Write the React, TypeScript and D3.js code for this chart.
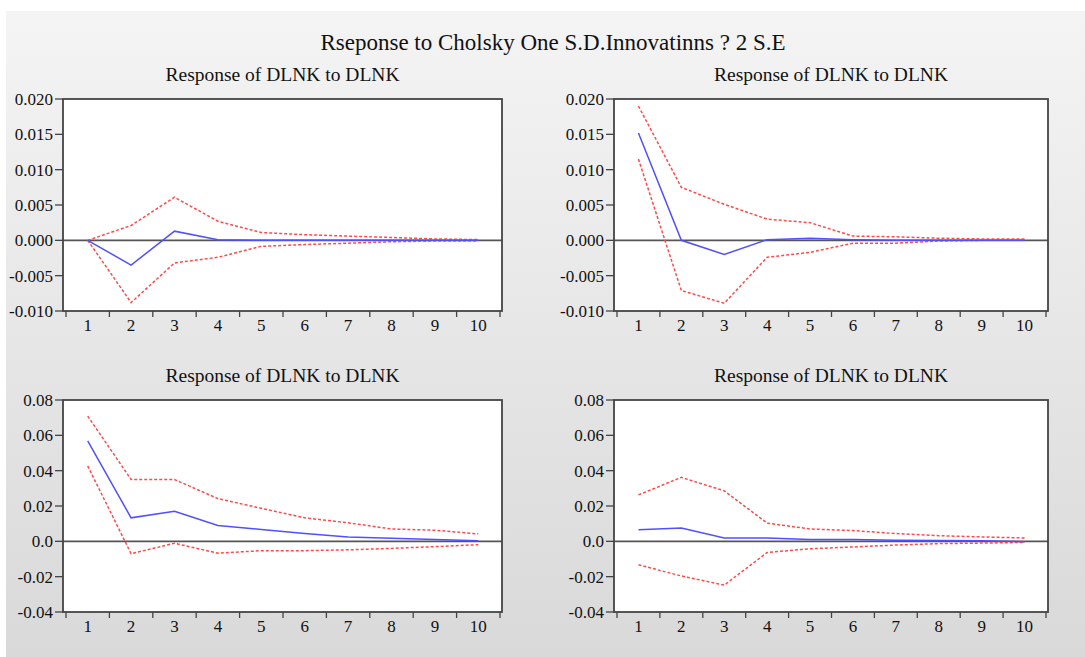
import React from 'react';
import * as d3 from 'd3';

const periods = [1, 2, 3, 4, 5, 6, 7, 8, 9, 10];

const mainTitle = 'Rseponse to Cholsky One S.D.Innovatinns ? 2 S.E';
const panelTitle = 'Response of DLNK to DLNK';

const topTicks = [-0.01, -0.005, 0, 0.005, 0.01, 0.015, 0.02];
const bottomTicks = [-0.04, -0.02, 0, 0.02, 0.04, 0.06, 0.08];

// panel 1 (top left)
const p1Resp = [0.0, -0.0035, 0.0013, 0.0001, 0.0, 0.0, 0.0, 0.0, 0.0, 0.0];
const p1Upper = [0.0, 0.0021, 0.0061, 0.0027, 0.0011, 0.0008, 0.0006, 0.0004, 0.0002, 0.0001];
const p1Lower = [0.0, -0.0088, -0.0032, -0.0024, -0.00085, -0.0006, -0.0004, -0.0002, -0.0001, -0.0001];

// panel 2 (top right)
const p2Resp = [0.0152, 0.0, -0.002, 0.0001, 0.0003, 0.0001, 0.0, 0.0, 0.0, 0.0];
const p2Upper = [0.019, 0.0075, 0.0051, 0.003, 0.0025, 0.0006, 0.0005, 0.0003, 0.0002, 0.0002];
const p2Lower = [0.0115, -0.0071, -0.0089, -0.0024, -0.0017, -0.0004, -0.0004, -0.0001, 0.0, 0.0];

// panel 3 (bottom left)
const p3Resp = [0.0568, 0.0133, 0.017, 0.009, 0.0067, 0.0044, 0.0025, 0.0017, 0.0011, 0.0004];
const p3Upper = [0.0709, 0.035, 0.035, 0.0242, 0.0187, 0.0133, 0.0105, 0.007, 0.0063, 0.0042];
const p3Lower = [0.0427, -0.007, -0.0011, -0.0067, -0.0053, -0.0053, -0.0048, -0.004, -0.003, -0.0019];

// panel 4 (bottom right)
const p4Resp = [0.0065, 0.0076, 0.0019, 0.0019, 0.0011, 0.0011, 0.0006, 0.0005, 0.0004, -0.0002];
const p4Upper = [0.0263, 0.0362, 0.0286, 0.0103, 0.007, 0.0061, 0.0044, 0.0032, 0.0025, 0.0019];
const p4Lower = [-0.0133, -0.0196, -0.0248, -0.0063, -0.0042, -0.0032, -0.0021, -0.0013, -0.001, -0.0006];

const FONT = '"Liberation Serif", "Times New Roman", serif';

const fmtTop = (d: number) => d3.format('.3f')(d).replace('−', '-');
const fmtBottom = (d: number) => (d === 0 ? '0.0' : d3.format('.2f')(d).replace('−', '-'));

type PanelProps = {
  x0: number; x1: number; y0: number; y1: number;
  ticks: number[]; fmt: (d: number) => string;
  resp: number[]; upper: number[]; lower: number[];
};

const Panel = ({ x0, x1, y0, y1, ticks, fmt, resp, upper, lower }: PanelProps) => {
  const yScale = d3.scaleLinear().domain([ticks[0], ticks[ticks.length - 1]]).range([y1, y0]);
  const xScale = d3.scaleBand<number>().domain(periods).range([x0 + 3, x1 - 2]);
  const cx = (p: number) => (xScale(p) as number) + xScale.bandwidth() / 2;
  const line = d3.line<number>().x((_, i) => cx(periods[i])).y(v => yScale(v));
  const bounds = periods.map(p => xScale(p) as number).concat([x1 - 2]);

  return (
    <g>
      <text x={(x0 + x1) / 2} y={y0 - 18} textAnchor="middle" fontSize={19.5} fontFamily={FONT} fill="#111">
        {panelTitle}
      </text>
      <rect x={x0} y={y0} width={x1 - x0} height={y1 - y0} fill="#fff" />
      {ticks.map(t => (
        <g key={t}>
          <line x1={x0 - 8} x2={x0} y1={yScale(t)} y2={yScale(t)} stroke="#444" strokeWidth={1.3} />
          <text x={x0 - 10} y={yScale(t)} dy="0.35em" textAnchor="end" fontSize={17} fontFamily={FONT} fill="#111">
            {fmt(t)}
          </text>
        </g>
      ))}
      {bounds.map((b, i) => (
        <line key={i} x1={b} x2={b} y1={y1} y2={y1 + 6} stroke="#444" strokeWidth={1.3} />
      ))}
      {periods.map(p => (
        <text key={p} x={cx(p)} y={y1 + 20} textAnchor="middle" fontSize={17} fontFamily={FONT} fill="#111">
          {p}
        </text>
      ))}
      <line x1={x0} x2={x1} y1={yScale(0)} y2={yScale(0)} stroke="#555" strokeWidth={1.6} />
      <path d={line(upper) || ''} fill="none" stroke="#ff4a4a" strokeWidth={1.5} strokeDasharray="3,2" />
      <path d={line(lower) || ''} fill="none" stroke="#ff4a4a" strokeWidth={1.5} strokeDasharray="3,2" />
      <path d={line(resp) || ''} fill="none" stroke="#5050ff" strokeWidth={1.5} />
      <rect x={x0} y={y0} width={x1 - x0} height={y1 - y0} fill="none" stroke="#444" strokeWidth={1.8} />
    </g>
  );
};

export default function App() {
  const width = 1085, height = 657;
  return (
    <div style={{ position: 'absolute', left: 0, top: 0 }}>
      <svg width={width} height={height} style={{ display: 'block', background: '#fff' }}>
        <defs>
          <linearGradient id="bg" x1="0" y1="0" x2="0" y2="1">
            <stop offset="0%" stopColor="#f4f4f4" />
            <stop offset="100%" stopColor="#d9d9d9" />
          </linearGradient>
        </defs>
        <rect x={6} y={11} width={width - 6} height={height - 11} fill="url(#bg)" />
        <text x={553} y={50} textAnchor="middle" fontSize={23} fontFamily={FONT} fill="#111">
          {mainTitle}
        </text>
        <Panel x0={63} x1={502} y0={99} y1={311} ticks={topTicks} fmt={fmtTop} resp={p1Resp} upper={p1Upper} lower={p1Lower} />
        <Panel x0={614} x1={1048} y0={99} y1={311} ticks={topTicks} fmt={fmtTop} resp={p2Resp} upper={p2Upper} lower={p2Lower} />
        <Panel x0={63} x1={502} y0={400} y1={612} ticks={bottomTicks} fmt={fmtBottom} resp={p3Resp} upper={p3Upper} lower={p3Lower} />
        <Panel x0={614} x1={1048} y0={400} y1={612} ticks={bottomTicks} fmt={fmtBottom} resp={p4Resp} upper={p4Upper} lower={p4Lower} />
      </svg>
    </div>
  );
}
